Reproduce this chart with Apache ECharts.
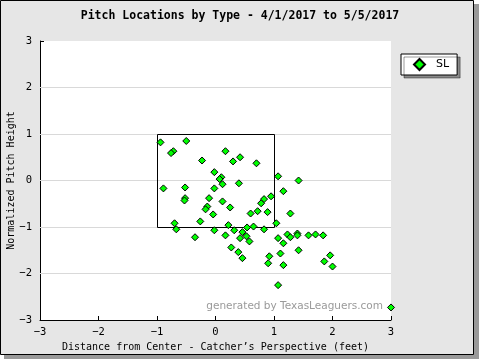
<!DOCTYPE html>
<html>
<head>
<meta charset="utf-8">
<script src="https://cdn.jsdelivr.net/npm/echarts@6/dist/echarts.min.js"></script>
<style>
html,body{margin:0;padding:0;background:#fff;}
#chart{width:480px;height:360px;}
</style>
</head>
<body>
<div id="chart"></div>
<script>
// ---- data ----
var titleText = 'Pitch Locations by Type - 4/1/2017 to 5/5/2017';
var xAxisName = 'Distance from Center - Catcher\u2019s Perspective (feet)';
var yAxisName = 'Normalized Pitch Height';
var seriesName = 'SL';
var axisTicks = [-3, -2, -1, 0, 1, 2, 3];
var gridValues = [-2, -1, 0, 1, 2];
var zoneX = [-1, 1];
var zoneY = [-1, 1];
var slX = [-0.94,-0.50,-0.72,-0.76,0.17,-0.23,0.30,0.42,0.70,-0.02,0.10,0.07,0.12,0.40,1.07,1.42,
  -0.89,-0.52,-0.02,-0.52,-0.53,-0.11,0.12,-0.14,-0.17,0.25,0.83,0.78,0.95,1.16,0.72,0.60,0.89,1.28,
  -0.04,-0.26,-0.70,-0.67,0.22,-0.02,0.32,0.54,0.65,0.83,1.04,-0.35,0.17,0.42,0.53,1.23,1.28,1.40,1.40,
  1.07,0.46,0.58,0.27,0.39,0.46,1.59,1.71,1.84,1.16,1.11,0.92,0.90,1.16,1.42,1.96,1.86,2.00,1.07,3.00];
var slY = [0.82,0.85,0.63,0.59,0.63,0.43,0.41,0.50,0.37,0.18,0.07,0.03,-0.08,-0.06,0.09,0.00,
  -0.17,-0.15,-0.17,-0.38,-0.43,-0.38,-0.45,-0.56,-0.62,-0.58,-0.40,-0.49,-0.34,-0.23,-0.66,-0.71,-0.68,-0.71,
  -0.73,-0.88,-0.92,-1.05,-0.96,-1.07,-1.07,-1.01,-0.99,-1.05,-0.92,-1.22,-1.18,-1.24,-1.20,-1.16,-1.22,-1.14,-1.18,
  -1.24,-1.11,-1.31,-1.44,-1.54,-1.67,-1.18,-1.16,-1.18,-1.35,-1.57,-1.63,-1.78,-1.82,-1.50,-1.61,-1.74,-1.85,-2.25,-2.73];

var slData = slX.map(function(x, i){ return [x, slY[i]]; });
var zoneData = [[zoneX[0], zoneY[1], zoneX[1], zoneY[0]]];

var mono = '"DejaVu Sans Mono", "Liberation Mono", monospace';
function fmt(v){ return String(v).replace('-', '\u2212'); }
function crisp(v){ return Math.round(v) + 0.5; }

var chart = echarts.init(document.getElementById('chart'), null, {renderer: 'canvas'});
chart.setOption({
  animation: false,
  backgroundColor: 'transparent',
  graphic: [
    {type: 'rect', z: -10, shape: {x: 4, y: 4, width: 475, height: 355}, style: {fill: '#999999'}},
    {type: 'rect', z: -9, shape: {x: 0.5, y: 0.5, width: 473, height: 354}, style: {fill: '#e6e6e6', stroke: '#000', lineWidth: 1}},
    {type: 'rect', z: -8, shape: {x: 40, y: 41, width: 351, height: 279}, style: {fill: '#ffffff'}},
    {type: 'text', z: 5, right: 97, top: 301, style: {text: 'generated by TexasLeaguers.com', fill: '#9a9a9a', font: '10.5px "DejaVu Sans", sans-serif'}}
  ],
  title: {
    text: titleText, left: 'center', top: 5,
    textStyle: {fontFamily: mono, fontWeight: 'bold', fontSize: 11.5, color: '#000'}
  },
  legend: {
    show: true, left: 401, top: 54,
    data: [seriesName],
    orient: 'vertical',
    backgroundColor: '#fff', borderColor: '#000', borderWidth: 1,
    padding: [4, 8, 4, 12], itemWidth: 11, itemHeight: 11,
    shadowColor: 'rgba(0,0,0,0.4)', shadowOffsetX: 3, shadowOffsetY: 3, shadowBlur: 0,
    textStyle: {fontFamily: '"DejaVu Sans", sans-serif', fontSize: 11, color: '#000', padding: [0, 0, 0, 6]}
  },
  grid: {left: 40, top: 41, width: 351, height: 279, containLabel: false, outerBoundsMode: 'none'},
  xAxis: {
    type: 'value', min: -3, max: 3, interval: 1,
    name: xAxisName, nameLocation: 'middle', nameGap: 22, nameMoveOverlap: false,
    nameTextStyle: {fontFamily: mono, fontSize: 10, color: '#000'},
    axisLine: {show: true, onZero: false, lineStyle: {color: '#000', width: 1}},
    axisTick: {show: true, inside: true, length: 4, lineStyle: {color: '#000'}},
    axisLabel: {fontFamily: mono, fontSize: 10.5, color: '#000', margin: 7, formatter: fmt},
    splitLine: {show: false}
  },
  yAxis: {
    type: 'value', min: -3, max: 3, interval: 1,
    name: yAxisName, nameLocation: 'middle', nameGap: 24, nameRotate: 90, nameMoveOverlap: false,
    nameTextStyle: {fontFamily: mono, fontSize: 10, color: '#000'},
    axisLine: {show: true, onZero: false, lineStyle: {color: '#000', width: 1}},
    axisTick: {show: true, inside: true, length: 4, lineStyle: {color: '#000'}},
    axisLabel: {fontFamily: mono, fontSize: 10.5, color: '#000', margin: 8, formatter: fmt},
    splitLine: {show: false}
  },
  series: [
    {
      type: 'line', name: 'grid', data: [], z: 1, silent: true,
      markLine: {
        silent: true, symbol: 'none', label: {show: false}, z: 1,
        lineStyle: {color: '#d9d9d9', type: 'solid', width: 1},
        data: gridValues.map(function(v){ return {yAxis: v}; })
      }
    },
    {
      type: 'custom', name: 'zone', data: zoneData, silent: true, z: 3,
      renderItem: function(params, api){
        var p1 = api.coord([api.value(0), api.value(1)]);
        var p2 = api.coord([api.value(2), api.value(3)]);
        var x0 = crisp(p1[0]), y0 = crisp(p1[1]), x1 = crisp(p2[0]), y1 = crisp(p2[1]);
        return {
          type: 'rect',
          shape: {x: x0, y: y0, width: x1 - x0, height: y1 - y0},
          style: {fill: null, stroke: '#000', lineWidth: 1}
        };
      }
    },
    {
      type: 'scatter', name: seriesName, data: slData, symbol: 'diamond', symbolSize: 7,
      clip: false, z: 4,
      itemStyle: {color: '#00ff00', borderColor: '#000', borderWidth: 1, opacity: 1}
    }
  ]
});
</script>
</body>
</html>
